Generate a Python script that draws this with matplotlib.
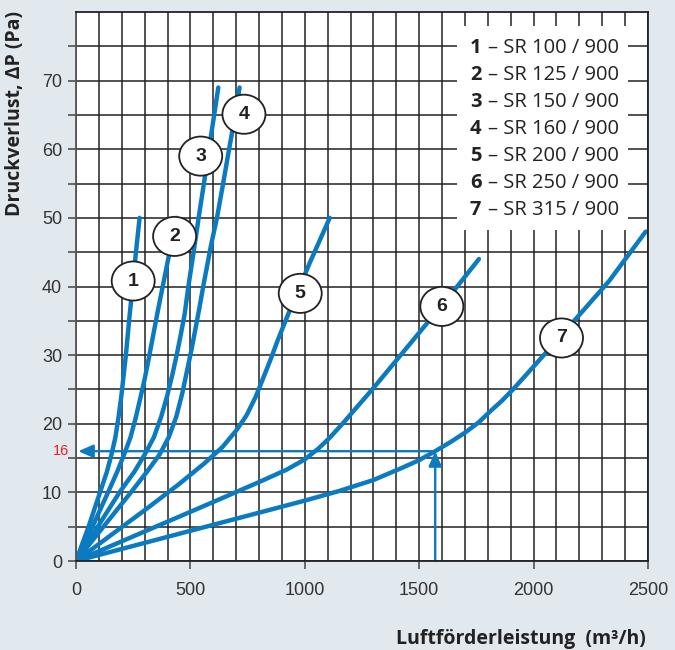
import numpy as np
import matplotlib.pyplot as plt
from matplotlib.patches import Ellipse, Rectangle

# air flow (m3/h) vs pressure drop (Pa), one pair of lists per silencer
q_sr100 = [0, 55, 105, 135, 155, 172, 186, 198, 208, 218, 232, 247, 262, 278]
dp_sr100 = [0, 5, 10, 13, 15.5, 18, 21, 24, 27, 30, 35, 40, 45, 50]

q_sr125 = [0, 72, 140, 180, 210, 238, 262, 283, 300, 318, 335, 358, 385, 412, 439]
dp_sr125 = [0, 5, 10, 13, 15.5, 18, 21, 24, 26.5, 29.5, 32.5, 36.5, 41, 45.5, 50]

q_sr150 = [0, 95, 190, 255, 300, 340, 372, 398, 420, 440, 458, 475, 491, 514,
           536, 559, 581, 604, 622]
dp_sr150 = [0, 5, 10, 13, 15.5, 18, 21, 24, 27, 30, 33, 36, 40, 45,
            50, 55, 60, 65, 69]

q_sr160 = [0, 120, 240, 310, 365, 405, 438, 465, 487, 506, 523, 540, 556, 590,
           616, 643, 669, 696, 715]
dp_sr160 = [0, 5, 10, 13, 15.5, 18, 21, 24.5, 28, 31, 34, 37, 40, 46,
            50, 55, 60, 65, 69]

q_sr200 = [0, 150, 300, 450, 560, 640, 700, 745, 785, 820, 852, 882, 940, 1021, 1109]
dp_sr200 = [0, 3.7, 7.4, 11.2, 14.2, 16.6, 19, 21.2, 23.9, 26.8, 29.5, 32.2, 37, 43.4, 50]

q_sr250 = [0, 300, 600, 800, 920, 1000, 1060, 1110, 1170, 1240, 1300, 1424,
           1533, 1602, 1761]
dp_sr250 = [0, 4.3, 8.6, 11.5, 13.3, 14.8, 16.4, 18, 20.2, 22.9, 25.2, 30.2,
            34.6, 37.3, 44]

q_sr315 = [0, 500, 1000, 1150, 1300, 1420, 1500, 1570, 1640, 1700, 1760, 1810,
           1860, 1910, 2050, 2180, 2330, 2490]
dp_sr315 = [0, 4.4, 8.8, 10.2, 11.8, 13.5, 14.7, 16, 17.4, 18.7, 20.2, 21.8,
            23.3, 25, 30.2, 35.1, 40.8, 48]

models = ["SR 100 / 900", "SR 125 / 900", "SR 150 / 900", "SR 160 / 900",
          "SR 200 / 900", "SR 250 / 900", "SR 315 / 900"]

# where the numbered circles sit on each curve
label_q = [250, 431, 545, 734, 980, 1599, 2122]
label_dp = [40.8, 47.3, 59.0, 65.1, 39.0, 37.1, 32.5]

# worked example: 1570 m3/h through SR 315 gives 16 Pa
q_op = 1570
dp_op = 16

curves = [(q_sr100, dp_sr100), (q_sr125, dp_sr125), (q_sr150, dp_sr150),
          (q_sr160, dp_sr160), (q_sr200, dp_sr200), (q_sr250, dp_sr250),
          (q_sr315, dp_sr315)]

BLUE = '#0b7bc1'
BG = '#e1e8ee'
INK = '#222222'

plt.rcParams['font.family'] = ['Liberation Sans', 'DejaVu Sans']

fig = plt.figure(figsize=(6.75, 6.5), dpi=100, facecolor=BG)
ax = fig.add_axes([76 / 675, 89 / 650, 572 / 675, 549 / 650])
ax.set_facecolor('white')
ax.set_xlim(0, 2500)
ax.set_ylim(0, 80)
ax.set_axisbelow(True)

ax.set_xticks(np.arange(0, 2501, 500))
ax.set_xticks(np.arange(0, 2501, 100), minor=True)
ax.set_yticks(np.arange(0, 71, 10))
ax.set_yticks(np.arange(5, 80, 5), minor=True)
ax.grid(which='both', color=INK, lw=1.1)
ax.tick_params(axis='both', which='major', length=6, width=1.1, color='#444',
               labelsize=13, labelcolor='#333')
ax.tick_params(axis='x', which='major', pad=9)
ax.tick_params(axis='y', which='major', pad=4)
ax.tick_params(axis='x', which='minor', length=0)
ax.tick_params(axis='y', which='minor', length=6, width=1.1, color='#444')
for side in ['top', 'right', 'bottom']:
    ax.spines[side].set_color(INK)
    ax.spines[side].set_linewidth(1.3)
ax.spines['left'].set_color('#555')
ax.spines['left'].set_linewidth(1.3)

for q, dp in curves:
    ax.plot(q, dp, color=BLUE, lw=3.2, solid_capstyle='round',
            solid_joinstyle='round', zorder=2)

for i, (x, y) in enumerate(zip(label_q, label_dp)):
    ax.add_patch(Ellipse((x, y), width=188, height=5.7, fc='white', ec=INK,
                         lw=1.3, zorder=3))
    ax.text(x, y, str(i + 1), ha='center', va='center', fontsize=14,
            fontweight='bold', color=INK, zorder=4)

# legend panel
ax.add_patch(Rectangle((1666, 48.3), 2414 - 1666, 77.9 - 48.3, fc='white',
                       ec='none', zorder=1))
for i, name in enumerate(models):
    y = 74.8 - 3.93 * i
    ax.text(1722, y, str(i + 1), ha='left', va='center', fontsize=14.5,
            fontweight='bold', color=INK, family='Open Sans', zorder=4)
    ax.text(1800, y, '– ' + name, ha='left', va='center', fontsize=14.5,
            color=INK, family='Open Sans', zorder=4)

# reading example
arrow = dict(arrowstyle='-|>,head_length=0.5,head_width=0.22', color=BLUE,
             lw=1.7, mutation_scale=18, shrinkA=0, shrinkB=0)
ax.annotate('', xy=(10, dp_op), xytext=(q_op, dp_op), arrowprops=arrow, zorder=2)
ax.annotate('', xy=(q_op, dp_op), xytext=(q_op, 0), arrowprops=arrow, zorder=2)
ax.text(-30, dp_op, str(dp_op), ha='right', va='center', fontsize=10.5,
        color='#e8202a', clip_on=False)

fig.text(646 / 675, 1 - 639 / 650, 'Luftförderleistung  (m³/h)', ha='right',
         va='center', fontsize=14, fontweight='bold', color=INK,
         family='Open Sans')
fig.text(15 / 675, 1 - 11 / 650, 'Druckverlust, ΔP (Pa)', ha='center',
         va='top', rotation=90, fontsize=14, fontweight='bold', color=INK,
         family='Open Sans')

fig.savefig('out.png', dpi=100, facecolor=BG)
